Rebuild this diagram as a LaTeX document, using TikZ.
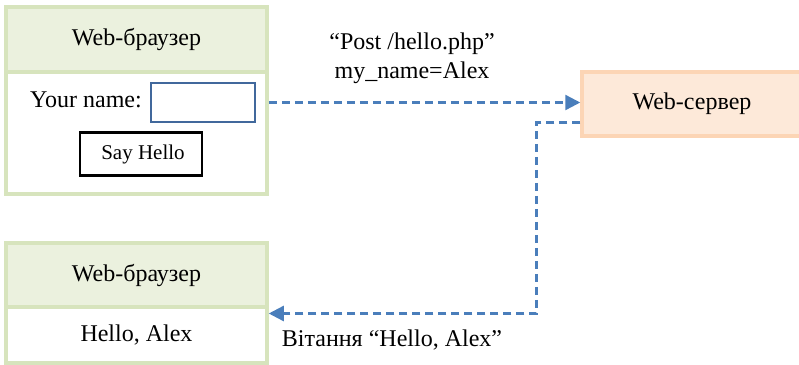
\documentclass[tikz,border=0pt]{standalone}
\usepackage{fontspec}
\setmainfont{Liberation Serif}
\usetikzlibrary{arrows.meta,positioning}
\definecolor{brgreen}{HTML}{D7E4BD}
\definecolor{brfill}{HTML}{EBF1DE}
\definecolor{srvline}{HTML}{FCD5B5}
\definecolor{srvfill}{HTML}{FDE9D9}
\definecolor{inpblue}{HTML}{41689C}
\definecolor{flowblue}{HTML}{4A7EBB}

\begin{document}
\begin{tikzpicture}[x=1pt, y=-1pt,
    every node/.style={font=\fontsize{24}{29}\selectfont, inner sep=0pt},
    hdr/.style={draw=brgreen, fill=brfill, line width=3.5pt, minimum width=261pt},
    pane/.style={draw=brgreen, fill=white, line width=3.5pt, minimum width=261pt},
    srv/.style={draw=srvline, fill=srvfill, line width=3.5pt, minimum width=220pt, minimum height=64pt},
    inbox/.style={draw=inpblue, line width=2.5pt, minimum width=104pt, minimum height=39pt},
    btn/.style={draw=black, line width=2.5pt, minimum width=122pt, minimum height=43pt, font=\fontsize{21}{25}\selectfont},
    flow/.style={draw=flowblue, line width=2.4pt, dash pattern=on 8pt off 5pt, -{Triangle[length=15pt,width=15pt]}}]
\path[use as bounding box, clip] (0,0) rectangle (799,364);

\node[hdr, minimum height=65pt] (h1) at (136.5, 39.5) {Web-браузер};
\node[pane, minimum height=122pt] (b1) at (136.5, 133) {};
\node (yn) at (86, 100) {Your name:};
\node[inbox] (inp) at (203, 102.5) {};
\node[btn] (say) at (141, 154) {\hspace{4pt}Say Hello};

\node[hdr, minimum height=64pt] (h2) at (136.5, 275) {Web-браузер};
\node[pane, minimum height=56pt] (b2) at (136.5, 335) {Hello, Alex};

\node[srv] (srv) at (692, 104) {Web-сервер};

\node[align=center] (req) at (412, 58) {“Post /hello.php”\\my\_name=Alex};
\node (resp) at (392, 340) {Вітання “Hello, Alex”};

\coordinate (bend) at (536.5, 313.5);
\draw[flow] (b1.east |- inp.east) -- (srv.west |- inp.east);
\draw[flow] ([yshift=-18.5pt]srv.west) -| (bend) -- (bend -| b2.east);
\end{tikzpicture}
\end{document}
